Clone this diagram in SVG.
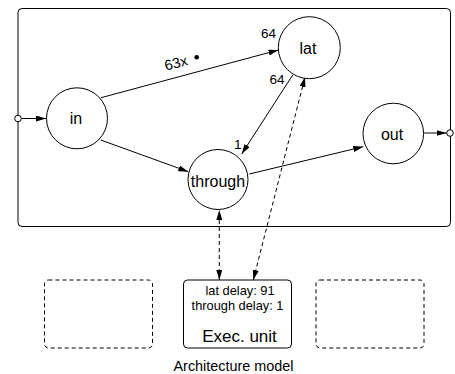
<svg xmlns="http://www.w3.org/2000/svg" width="455" height="374" viewBox="0 0 455 374">
  <defs>
    <marker id="arrow" viewBox="0 0 10 6" refX="10" refY="3" markerWidth="10" markerHeight="6" markerUnits="userSpaceOnUse" orient="auto-start-reverse">
      <path d="M0,0 L10,3 L0,6 Z" fill="#000"/>
    </marker>
    <style>
      text { font-family: "Liberation Sans", Arial, sans-serif; fill: #000; }
      .node { fill: #fff; stroke: #000; stroke-width: 1; }
      .label { font-size: 16px; text-anchor: middle; }
      .small { font-size: 13.5px; }
      .delay { font-size: 12.8px; }
      .edge { fill: none; stroke: #000; stroke-width: 1; marker-end: url(#arrow); }
      .dash { fill: none; stroke: #000; stroke-width: 1; stroke-dasharray: 4 3; marker-start: url(#arrow); marker-end: url(#arrow); }
      .slot { fill: none; stroke: #000; stroke-width: 1; stroke-dasharray: 4 3; }
    </style>
  </defs>

  <!-- application graph frame -->
  <rect id="frame" x="18" y="8.5" width="432.5" height="218" rx="4" fill="#fff" stroke="#000" stroke-width="1"/>

  <g id="connectors">
    <line class="edge" x1="21.5" y1="118.5" x2="46" y2="118.5"/>
    <line class="edge" x1="101" y1="97.7" x2="278.5" y2="50"/>
    <line class="edge" x1="100.7" y1="140" x2="188.3" y2="171.7"/>
    <line class="edge" x1="292.7" y1="75" x2="241.7" y2="154"/>
    <line class="edge" x1="249.3" y1="174" x2="363.3" y2="146.7"/>
    <line class="edge" x1="423.5" y1="133" x2="446.5" y2="133"/>
    <line class="dash" x1="219.3" y1="280" x2="219.3" y2="210"/>
    <line class="dash" x1="253.3" y1="280" x2="305" y2="77"/>
  </g>

  <!-- edge annotations -->
  <g id="edge-labels">
    <text x="176" y="68" font-size="14.5" text-anchor="middle" transform="rotate(-15 176 63)">63x</text>
    <circle cx="196.7" cy="57.3" r="2.3" fill="#000"/>
    <text class="small" x="268.5" y="37.5" text-anchor="middle">64</text>
    <text class="small" x="277" y="83.5" text-anchor="middle">64</text>
    <text class="small" x="237.7" y="148.5" text-anchor="middle">1</text>
  </g>

  <g id="port-in">
    <circle cx="18" cy="118.5" r="3.3" fill="#fff" stroke="#000" stroke-width="1"/>
  </g>
  <g id="port-out">
    <circle cx="450" cy="133" r="3.3" fill="#fff" stroke="#000" stroke-width="1"/>
  </g>

  <g id="in">
    <circle class="node" cx="77" cy="118.3" r="30.5"/>
    <text class="label" x="76" y="124">in</text>
  </g>
  <g id="lat">
    <circle class="node" cx="309.3" cy="47.7" r="31"/>
    <text class="label" x="308" y="53.5">lat</text>
  </g>
  <g id="out">
    <circle class="node" cx="393.3" cy="133.5" r="30.3"/>
    <text class="label" x="392" y="139.5">out</text>
  </g>
  <g id="through">
    <circle class="node" cx="218" cy="179.5" r="30"/>
    <text class="label" x="218" y="186.5">through</text>
  </g>

  <!-- architecture model -->
  <g id="slot-left">
    <rect class="slot" x="44.5" y="280" width="108" height="68" rx="4"/>
  </g>
  <g id="exec-unit">
    <rect x="183.5" y="280" width="108" height="68" rx="4" fill="#fff" stroke="#000" stroke-width="1"/>
    <text class="delay" x="240" y="295" text-anchor="middle">lat delay: 91</text>
    <text class="delay" x="237.5" y="309.5" text-anchor="middle">through delay: 1</text>
    <text x="239.5" y="342" font-size="17" text-anchor="middle">Exec. unit</text>
  </g>
  <g id="slot-right">
    <rect class="slot" x="316" y="280" width="108" height="68" rx="4"/>
  </g>
  <text x="233.5" y="371" font-size="14.4" text-anchor="middle">Architecture model</text>
</svg>
